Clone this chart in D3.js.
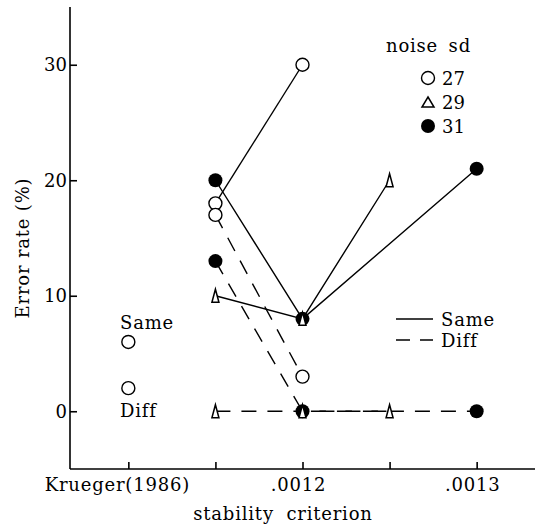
<!DOCTYPE html>
<html>
<head>
<meta charset="utf-8">
<script src="https://cdn.jsdelivr.net/npm/d3@7/dist/d3.min.js"></script>
<style>
  html, body { margin: 0; padding: 0; background: #fff; }
  svg { display: block; }
  text { font-family: "DejaVu Serif", serif; fill: #000; }
</style>
</head>
<body>
<div id="chart"></div>
<script>
// ---------------- data ----------------
// x positions are category indices along the "stability criterion" axis
const xTickLabels = ["Krueger(1986)", "", ".0012", "", ".0013"];
const yTicks = [0, 10, 20, 30];

const kruegerX = [0, 0];
const kruegerValues = [6, 2];            // Same, Diff
const kruegerLabels = ["Same", "Diff"];

const noiseLevels = ["27", "29", "31"];

const x27 = [1, 2];
const same27 = [18, 30];
const diff27 = [17, 3];

const x29 = [1, 2, 3];
const same29 = [10, 8, 20];
const diff29 = [0, 0, 0];

const x31 = [1, 2, 4];
const same31 = [20, 8, 21];
const diff31 = [13, 0, 0];

const lineTypes = ["Same", "Diff"];

// ---------------- chart ----------------
const W = 541, H = 524;
const svg = d3.select("#chart").append("svg").attr("width", W).attr("height", H);

const x = d3.scaleLinear().domain([-0.67, 4.67]).range([70, 535]);
const y = d3.scaleLinear().domain([-5, 35]).range([469, 7]);

const DASH = "15,11";
const line = d3.line().x(d => x(d[0])).y(d => y(d[1]));
const zip = (xs, ys) => xs.map((v, i) => [v, ys[i]]);

const series = [
  { level: "27", xs: x27, same: same27, diff: diff27 },
  { level: "29", xs: x29, same: same29, diff: diff29 },
  { level: "31", xs: x31, same: same31, diff: diff31 }
];

// axes
const yAxis = d3.axisRight(y).tickValues(yTicks).tickSize(7).tickFormat("");
const gy = svg.append("g").attr("transform", `translate(${x.range()[0]},0)`).call(yAxis);
gy.select(".domain").attr("d", `M0,${y.range()[1]}V${y.range()[0]}`);
gy.selectAll("path,line").attr("stroke", "#000").attr("stroke-width", 1.6);

const xAxis = d3.axisTop(x).tickValues(d3.range(xTickLabels.length)).tickSize(7).tickFormat("");
const gx = svg.append("g").attr("transform", `translate(0,${y.range()[0]})`).call(xAxis);
gx.select(".domain").attr("d", `M${x.range()[0]},0H${x.range()[1]}`);
gx.selectAll("path,line").attr("stroke", "#000").attr("stroke-width", 1.6);

// tick labels
svg.append("g").selectAll("text").data(yTicks).join("text")
  .attr("x", x.range()[0] - 3).attr("y", d => y(d) + 6.5)
  .attr("text-anchor", "end").attr("font-size", 18)
  .text(d => d);

svg.append("g").selectAll("text").data(xTickLabels.map((t, i) => [i, t]).filter(d => d[1])).join("text")
  .attr("x", d => x(d[0]) - (d[0] === 0 ? 11 : 4)).attr("y", 491)
  .attr("text-anchor", "middle").attr("font-size", 18).attr("letter-spacing", 0.8)
  .text(d => d[1]);

svg.append("text").attr("x", 283).attr("y", 520).attr("text-anchor", "middle")
  .attr("font-size", 18).attr("letter-spacing", 0.8).attr("word-spacing", 6)
  .text("stability criterion");

svg.append("text").attr("transform", `translate(29,${248}) rotate(-90)`)
  .attr("text-anchor", "middle").attr("font-size", 18).attr("letter-spacing", 0.8)
  .text("Error rate (%)");

// lines
const gl = svg.append("g").attr("fill", "none").attr("stroke", "#000").attr("stroke-width", 1.4);
series.forEach(s => {
  gl.append("path").attr("d", line(zip(s.xs, s.same)));
  gl.append("path").attr("d", line(zip(s.xs, s.diff))).attr("stroke-dasharray", DASH);
});

// markers
const triPath = (w, h) => `M0,${-h / 2}L${w / 2},${h / 2}L${-w / 2},${h / 2}Z`;
function marker(g, level, cx, cy, legend) {
  if (level === "27") {
    g.append("circle").attr("cx", cx).attr("cy", cy).attr("r", 6.5)
      .attr("fill", "#fff").attr("stroke", "#000").attr("stroke-width", 1.4);
  } else if (level === "31") {
    g.append("circle").attr("cx", cx).attr("cy", cy).attr("r", 7)
      .attr("fill", "#000");
  } else {
    g.append("path").attr("transform", `translate(${cx},${cy})`)
      .attr("d", legend ? triPath(12, 10) : triPath(7, 13))
      .attr("fill", "#fff").attr("stroke", "#000").attr("stroke-width", 1.5)
      .attr("stroke-linejoin", "miter");
  }
}
const gm = svg.append("g");
// draw order: open circles, filled circles, triangles on top
["27", "31", "29"].forEach(lv => {
  const s = series.find(d => d.level === lv);
  zip(s.xs, s.same).concat(zip(s.xs, s.diff)).forEach(p => marker(gm, lv, x(p[0]), y(p[1])));
});

// Krueger points
kruegerValues.forEach((v, i) => marker(gm, "27", x(kruegerX[i]), y(v)));
svg.append("text").attr("x", 120).attr("y", 329).attr("font-size", 18).attr("letter-spacing", 0.8).text(kruegerLabels[0]);
svg.append("text").attr("x", 120).attr("y", 417).attr("font-size", 18).attr("letter-spacing", 0.8).text(kruegerLabels[1]);

// legend: noise sd
svg.append("text").attr("x", 386).attr("y", 52).attr("font-size", 18).attr("letter-spacing", 0.8)
  .attr("word-spacing", 4).text("noise sd");
noiseLevels.forEach((lv, i) => {
  const cy = 78 + i * 24;
  marker(svg, lv, 428, cy, true);
  svg.append("text").attr("x", 442).attr("y", cy + 6.5).attr("font-size", 18).text(lv);
});

// legend: line types
lineTypes.forEach((t, i) => {
  const cy = 319 + i * 21;
  svg.append("line").attr("x1", 396).attr("x2", 433).attr("y1", cy).attr("y2", cy)
    .attr("stroke", "#000").attr("stroke-width", 1.6)
    .attr("stroke-dasharray", i === 1 ? "14,10" : null);
  svg.append("text").attr("x", 441).attr("y", cy + 6.5).attr("font-size", 18).attr("letter-spacing", 0.8).text(t);
});
</script>
</body>
</html>
